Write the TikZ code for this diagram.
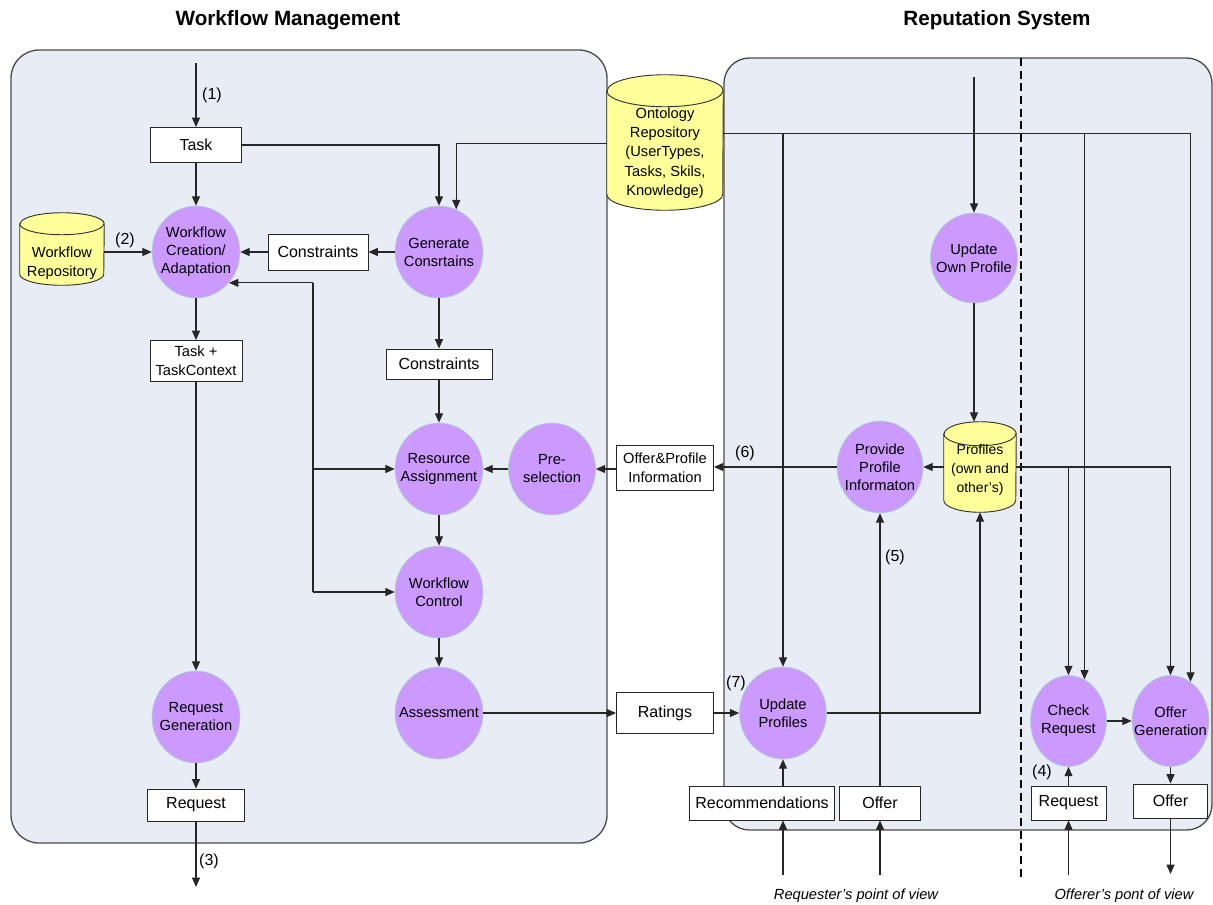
\documentclass[tikz,border=0pt]{standalone}
\usepackage{fontspec}
\setmainfont{Liberation Sans}
\usetikzlibrary{shapes.geometric,arrows.meta,calc}

\definecolor{panelfill}{HTML}{E8ECF5}
\definecolor{panelline}{HTML}{4D4D4D}
\definecolor{procfill}{HTML}{CC99FF}
\definecolor{procline}{HTML}{A8DCC8}
\definecolor{storefill}{HTML}{FFFF99}
\definecolor{wirecol}{HTML}{262626}

% a data store drawn as a cylinder over the frame of node #1
% #2 = horizontal radius, #3 = height of the cap's half-ellipse
\newcommand\drawstore[3]{%
  \draw[storeline, fill=storefill]
    ([yshift=-#3]#1.north west) -- ([yshift=#3]#1.south west)
    arc[start angle=180, end angle=360, x radius=#2, y radius=#3]
    -- ([yshift=-#3]#1.north east)
    arc[start angle=0, end angle=180, x radius=#2, y radius=#3] -- cycle;
  \draw[storeline] ([yshift=-#3]#1.north west)
    arc[start angle=180, end angle=360, x radius=#2, y radius=#3];
}

\begin{document}
\begin{tikzpicture}[x=0.75pt,y=-0.75pt,
  sz/.style 2 args={minimum width=#1*0.75pt, minimum height=#2*0.75pt},
  panel/.style={draw=panelline, fill=panelfill, line width=1pt},
  proc/.style={ellipse, fill=procfill, draw=procline, line width=0.5pt,
    inner sep=-12pt, align=center, font=\fontsize{11}{13.5}\selectfont, sz={88}{92}},
  databox/.style={rectangle, draw=black!85, fill=white, line width=0.7pt,
    inner sep=0pt, align=center, font=\fontsize{12}{14}\selectfont},
  smallbox/.style={databox, font=\fontsize{11}{14}\selectfont},
  store/.style={rectangle, draw=none, inner sep=0pt},
  storeline/.style={draw=black!80, line width=0.7pt},
  storetext/.style={align=center, font=\fontsize{11}{14.5}\selectfont},
  wire/.style={draw=wirecol, line width=0.8pt},
  arr/.style={wire, -{Triangle[length=7pt,width=6pt]}},
  num/.style={font=\fontsize{12}{14}\selectfont, inner sep=0pt},
  title/.style={font=\bfseries\fontsize{15.5}{18}\selectfont, inner sep=0pt},
  view/.style={font=\itshape\fontsize{11}{13}\selectfont, inner sep=0pt}]

\useasboundingbox (0,0) rectangle (1213,904);

% headings
\node[title] (t1) at (288,20) {Workflow Management};
\node[title] (t2) at (997,20) {Reputation System};

% the two subsystems
\draw[panel, rounded corners=21pt] (11,50) rectangle (607,843);
\draw[panel, rounded corners=19pt] (724,58) rectangle (1212,830);

% requester / offerer separation
\draw[black, line width=0.8pt, dash pattern=on 6pt off 3.5pt] (1021,58) -- (1021,878);

% ---------- workflow management ----------
\node[databox, sz={91}{35}] (task) at (196,145) {Task};
\node[proc] (wfca) at (196,252) {Workflow\\Creation/\\Adaptation};
\node[store, sz={84}{72}] (wrepo) at (62,249) {};
\drawstore{wrepo}{31.5pt}{8.25pt}
\node[storetext] (wrepotext) at (62,263) {Workflow\\Repository};
\node[databox, sz={100}{36}] (cons1) at (318,252) {Constraints};
\node[proc] (gen) at (439,252) {Generate\\Consrtains};
\node[smallbox, sz={92}{41}] (ttc) at (196,361) {Task +\\TaskContext};
\node[databox, sz={106}{30}] (cons2) at (439,364) {Constraints};
\node[proc] (ra) at (439,469) {Resource\\Assignment};
\node[proc, sz={87}{92}] (pre) at (552,469) {Pre-\\selection};
\node[proc] (wc) at (439,592) {Workflow\\Control};
\node[proc] (ass) at (439,713) {Assessment};
\node[proc] (rg) at (196,717) {Request\\Generation};
\node[databox, sz={97}{32}] (req1) at (196,805) {Request};

% ---------- shared repository ----------
\node[store, sz={116}{135}] (onto) at (665,142.5) {};
\drawstore{onto}{43.5pt}{12pt}
\node[storetext] (ontotext) at (665,153) {Ontology\\Repository\\(UserTypes,\\Tasks, Skils,\\Knowledge)};

% ---------- reputation system ----------
\node[smallbox, sz={97}{45}] (opi) at (665,468) {Offer\&Profile\\Information};
\node[databox, sz={97}{41}] (ratings) at (665,713) {Ratings};
\node[proc, sz={87}{92}] (up) at (783,713) {Update\\Profiles};
\node[proc, sz={87}{90}] (uop) at (974,258) {Update\\Own Profile};
\node[proc, sz={86}{92}] (ppi) at (880,467) {Provide\\Profile\\Informaton};
\node[store, sz={72}{90}] (prof) at (980,467) {};
\drawstore{prof}{27pt}{9pt}
\node[storetext, font=\fontsize{10.5}{14}\selectfont] (proftext) at (980,470) {Profiles\\(own and\\other’s)};
\node[databox, sz={145}{34}] (rec) at (762,803) {Recommendations};
\node[databox, sz={81}{34}] (offer1) at (880,803) {Offer};
\node[proc, sz={76}{91}] (cr) at (1068.5,721) {Check\\Request};
\node[proc, sz={77}{91}] (og) at (1170.5,721) {Offer\\Generation};
\node[databox, sz={75}{34}] (req2) at (1068.5,803) {Request};
\node[databox, sz={74}{34}] (offer2) at (1170.5,801) {Offer};

% free ends of the connectors
\coordinate (in1) at (196,63);
\coordinate (out3) at (196,887);
\coordinate (inuop) at (974,77);
\coordinate (bus) at (313,469);
\coordinate (inrec) at (783,875);
\coordinate (inoffer) at (880,875);
\coordinate (inreq) at (1068.5,875);
\coordinate (outoffer) at (1170.5,874);
\coordinate (ontoR) at ([yshift=7pt]onto.east);
\coordinate (ontoL) at ([yshift=-1pt]onto.west);

% step numbers
\node[num] (n1) at (212,95) {(1)};
\node[num] (n2) at (125,240) {(2)};
\node[num] (n3) at (209,861) {(3)};
\node[num] (n4) at (1042,772) {(4)};
\node[num] (n5) at (895,557) {(5)};
\node[num] (n6) at (745,453) {(6)};
\node[num] (n7) at (736,683) {(7)};

% viewpoints
\node[view] (pov1) at (856,896) {Requester’s point of view};
\node[view] (pov2) at (1124,896) {Offerer’s pont of view};

% ---------- connectors: workflow management ----------
\draw[arr] (in1) -- (task);
\draw[arr] (task) -- (wfca);
\draw[arr] (task.east) -| (gen.north);
\draw[arr] (ontoL) -| (gen.68);
\draw[arr] (wrepo.east |- wfca.west) -- (wfca.west);
\draw[arr] (gen) -- (cons1);
\draw[arr] (cons1) -- (wfca);
\draw[arr] (gen) -- (cons2);
\draw[arr] (cons2) -- (ra);
\draw[arr] (ra) -- (wc);
\draw[arr] (wc) -- (ass);
\draw[arr] (pre) -- (ra);
\draw[arr] (opi.west |- pre.east) -- (pre.east);
\draw[arr] (bus |- wfca.-43) -- (wfca.-43);
\draw[wire] (bus |- wfca.-43) -- (bus |- wc.west);
\draw[arr] (bus) -- (ra.west);
\draw[arr] (bus |- wc.west) -- (wc.west);
\draw[arr] (wfca) -- (ttc);
\draw[arr] (ttc) -- (rg);
\draw[arr] (rg) -- (req1);
\draw[arr] (req1) -- (out3);
\draw[arr] (ass) -- (ratings);

% ---------- connectors: reputation system ----------
\draw[arr] (ratings) -- (up);
\draw[arr] (up.east) -| (prof.south);
\draw[arr] (ontoR) -| (up.north);
\draw[arr] (ontoR) -| (cr.69);
\draw[arr] (ontoR) -| (og.63);
\draw[arr] (prof.east) -| (cr.north);
\draw[arr] (prof.east) -| (og.north);
\draw[arr] (prof.west) -- (prof.west -| ppi.east);
\draw[arr] (ppi.west) -- (ppi.west -| opi.east);
\draw[arr] (inuop) -- (uop.north);
\draw[arr] (uop.south) -- (uop.south |- prof.north);
\draw[arr] (offer1) -- (ppi);
\draw[arr] (up.south |- rec.north) -- (up.south);
\draw[arr] (inrec) -- (inrec |- rec.south);
\draw[arr] (inoffer) -- (offer1.south);
\draw[arr] (inreq) -- (req2.south);
\draw[arr] (req2) -- (cr);
\draw[arr] (cr) -- (og);
\draw[arr] (og) -- (offer2);
\draw[arr] (offer2) -- (outoffer);
\end{tikzpicture}
\end{document}
